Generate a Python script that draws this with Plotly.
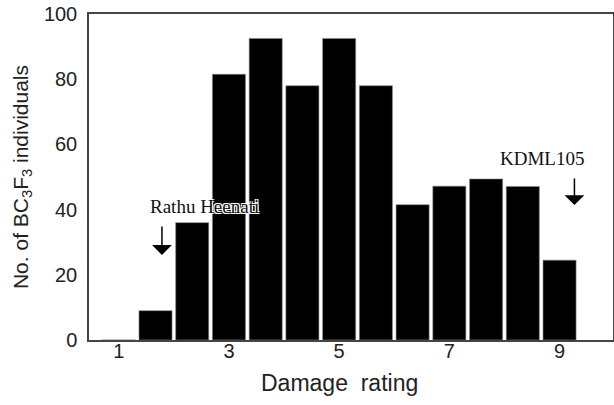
import plotly.graph_objects as go

ratings = [1, 1.667, 2.333, 3, 3.667, 4.333, 5, 5.667, 6.333, 7, 7.667, 8.333, 9]
counts = [0, 9, 36, 81.5, 92.5, 78, 92.5, 78, 41.5, 47.2, 49.4, 47.1, 24.5]
x_ticks = [1, 3, 5, 7, 9]
y_ticks = [0, 20, 40, 60, 80, 100]

fig = go.Figure()
fig.add_trace(go.Bar(
    x=ratings, y=counts, width=0.6,
    marker=dict(color="black", line=dict(color="#888888", width=0.6)),
))

axis_font = dict(family="Arial, Liberation Sans, sans-serif", size=20, color="#222222")
halo = "1px 1px 0 white, -1px -1px 0 white, 1px -1px 0 white, -1px 1px 0 white"
serif = dict(family="Times New Roman, Liberation Serif, serif", size=19, color="#111111", shadow=halo)

fig.update_layout(
    width=614, height=405,
    margin=dict(l=89, r=1, t=14, b=65),
    paper_bgcolor="white", plot_bgcolor="white",
    showlegend=False,
    xaxis=dict(
        range=[0.46, 9.97], tickvals=x_ticks, ticktext=[str(v) for v in x_ticks],
        showgrid=False, zeroline=False, showline=True, mirror=True,
        linecolor="#444444", linewidth=1.5, ticks="", automargin=False,
        tickfont=axis_font, ticklabelstandoff=-8,
    ),
    yaxis=dict(
        range=[0, 100], tickvals=y_ticks, automargin=False,
        showgrid=False, zeroline=False, showline=True, mirror=True,
        linecolor="#444444", linewidth=1.5, ticks="",
        tickfont=axis_font, ticklabelstandoff=6,
        title=dict(text="No. of BC<sub>3</sub>F<sub>3</sub> individuals",
                   font=dict(family="Arial, Liberation Sans, sans-serif", size=21, color="#222222"), standoff=10),
    ),
)

# x-axis title (centred under rating 5, as in the reference)
fig.add_annotation(x=5, y=-0.132, xref="x", yref="paper", yanchor="middle",
                   text="Damage  rating", showarrow=False,
                   font=dict(family="Arial, Liberation Sans, sans-serif", size=23, color="#222222"))

fig.add_annotation(x=2.565, y=40.9, xref="x", yref="y", text="Rathu Heenati",
                   showarrow=False, font=serif)
fig.add_annotation(x=1.784, y=26.1, ax=1.784, ay=35.3, xref="x", yref="y",
                   axref="x", ayref="y", text="", showarrow=True,
                   arrowhead=1, arrowsize=2.2, arrowwidth=1.5, arrowcolor="black", standoff=0)
fig.add_annotation(x=8.68, y=55.7, xref="x", yref="y", text="KDML105",
                   showarrow=False, font=serif)
fig.add_annotation(x=9.27, y=41.4, ax=9.27, ay=50.0, xref="x", yref="y",
                   axref="x", ayref="y", text="", showarrow=True,
                   arrowhead=1, arrowsize=2.2, arrowwidth=1.5, arrowcolor="black", standoff=0)

fig.write_html("out.html", config={"displayModeBar": False},
               post_script="document.body.style.margin='0';")
